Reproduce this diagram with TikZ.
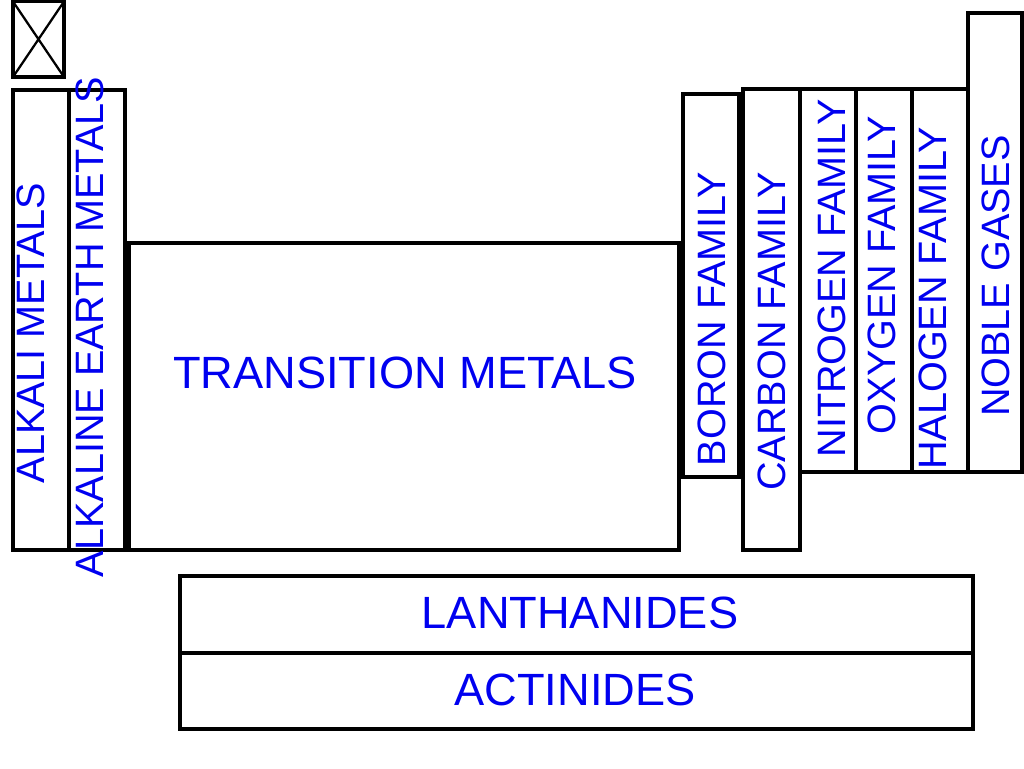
\documentclass[tikz,border=0pt]{standalone}
\usepackage{fontspec}
\setmainfont{Liberation Sans}
\definecolor{lblue}{RGB}{0,0,240}
\tikzset{
  box/.style={draw=black, line width=2.3pt, line join=miter},
  hlab/.style={text=lblue, inner sep=0pt, font=\fontsize{33.9}{40}\selectfont},
  vlab/.style={text=lblue, inner sep=0pt, rotate=90, font=\fontsize{29.7}{35}\selectfont}
}
\begin{document}
\begin{tikzpicture}[x=0.75pt,y=-0.75pt]
\useasboundingbox (0,0) rectangle (1024,768);
% top-left empty cell
\draw[box] (13,1.5) rectangle (64,77);
\draw[line width=1.7pt] (13,1.5) -- (64,77) (64,1.5) -- (13,77);
% left columns
\draw[box] (13,90) rectangle (69,550);
\draw[box] (69,90) rectangle (125,550);
% transition block
\draw[box] (129,243) rectangle (679,550);
% right columns
\draw[box] (683,94) rectangle (739,477);
\draw[box] (743,89) rectangle (800,550);
\draw[box] (800,89) rectangle (856,472);
\draw[box] (856,89) rectangle (912,472);
\draw[box] (912,89) rectangle (968,472);
\draw[box] (968,13) rectangle (1022,472);
% f-block
\draw[box] (180,576) rectangle (973,653);
\draw[box] (180,653) rectangle (973,729);
% labels
\node[vlab] (alkali) at (30.5,333) {ALKALI METALS};
\node[vlab] (alkearth) at (90,327) {ALKALINE EARTH METALS};
\node[hlab] (trans) at (405,373) {TRANSITION METALS};
\node[vlab] (boron) at (711.5,319) {BORON FAMILY};
\node[vlab] (carbon) at (772,331.5) {CARBON FAMILY};
\node[vlab] (nitrogen) at (831.5,278.5) {NITROGEN FAMILY};
\node[vlab] (oxygen) at (882,275) {OXYGEN FAMILY};
\node[vlab] (halogen) at (933,298.5) {HALOGEN FAMILY};
\node[vlab] (noble) at (996,276) {NOBLE GASES};
\node[hlab] (lanth) at (580,613) {LANTHANIDES};
\node[hlab] (actin) at (575,690) {ACTINIDES};
\end{tikzpicture}
\end{document}
